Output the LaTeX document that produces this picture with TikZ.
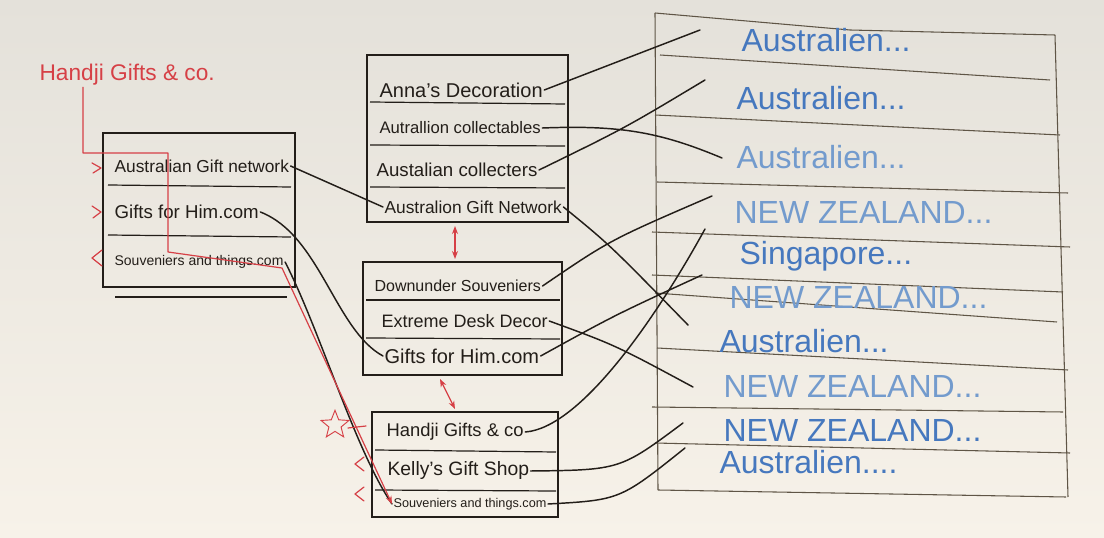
\documentclass[tikz,border=0pt]{standalone}
\usepackage{fontspec}
\setmainfont{Liberation Sans}
\usetikzlibrary{shapes.geometric,arrows.meta}
\definecolor{boardtop}{RGB}{228,225,218}
\definecolor{boardbot}{RGB}{247,242,233}
\definecolor{ink}{RGB}{35,30,25}
\definecolor{thinink}{RGB}{95,85,70}
\definecolor{hred}{RGB}{214,64,70}
\definecolor{hblue}{RGB}{70,120,190}
\definecolor{hbluel}{RGB}{115,155,205}
\newcommand\fsz[1]{\fontsize{#1}{#1}\selectfont}
\tikzset{
  frame/.style={draw=ink, line width=1.1pt},
  divider/.style={draw=ink, line width=0.9pt},
  rframe/.style={draw=thinink, line width=0.8pt},
  item/.style={anchor=west, inner sep=1pt, text=ink},
  place/.style={anchor=west, inner sep=1pt, text=hblue, font=\fsz{24pt}},
  conn/.style={draw=ink, line width=1.1pt, line cap=round},
  redink/.style={draw=hred, line width=0.9pt, line cap=round, line join=round},
  dbl/.style={redink, {Stealth[length=6pt]}-{Stealth[length=6pt]}}
}
\begin{document}
\begin{tikzpicture}[x=0.75pt,y=-0.75pt]
\shade[top color=boardtop, bottom color=boardbot] (0,0) rectangle (1104,538);
\useasboundingbox (0,0) rectangle (1104,538);

% ---------- red label ----------
\node[anchor=west, inner sep=1pt, text=hred, font=\fsz{17pt}] (hlab) at (38,75) {Handji Gifts \& co.};
\coordinate (rs) at (83,0);

% ---------- left box ----------
\draw[frame] (103,133) rectangle (295,287);
\draw[divider] (108,185) -- (291,187);
\draw[divider] (108,235) -- (291,237);
\draw[divider] (115,297) -- (287,297);
\node[item, font=\fsz{13pt}] (la1) at (113,166) {Australian Gift network};
\node[item, font=\fsz{14pt}] (la2) at (113,212) {Gifts for Him.com};
\node[item, font=\fsz{10.5pt}] (la3) at (113,262) {Souveniers and things.com};

% ---------- middle top box ----------
\draw[frame] (367,55) rectangle (568,222);
\draw[divider] (370,102) -- (565,104);
\draw[divider] (370,145) -- (565,146);
\draw[divider] (370,187) -- (565,188);
\node[item, font=\fsz{15pt}] (ma1) at (378,90) {Anna's Decoration};
\node[item, font=\fsz{12.5pt}] (ma2) at (378,128) {Autrallion collectables};
\node[item, font=\fsz{14pt}] (ma3) at (375,170) {Austalian collecters};
\node[item, font=\fsz{13pt}] (ma4) at (383,207) {Australion Gift Network};
\coordinate (ta1) at (455,226);

% ---------- middle box ----------
\draw[frame] (363,262) rectangle (562,375);
\draw[divider] (366,300) -- (560,300);
\draw[divider] (366,338) -- (560,339);
\node[item, font=\fsz{12pt}] (mb1) at (373,286) {Downunder Souveniers};
\node[item, font=\fsz{13.5pt}] (mb2) at (380,321) {Extreme Desk Decor};
\node[item, font=\fsz{15pt}] (mb3) at (383,356) {Gifts for Him.com};
\coordinate (tb1) at (455,259);
\coordinate (tb2) at (440,379);

% ---------- bottom box ----------
\draw[frame] (372,412) rectangle (558,517);
\draw[divider] (375,450) -- (556,452);
\draw[divider] (375,490) -- (556,491);
\node[item, font=\fsz{13.8pt}] (mc1) at (385,432) {Handji Gifts \& co};
\node[item, font=\fsz{14.5pt}] (mc2) at (386,471) {Kelly's Gift Shop};
\node[item, font=\fsz{9.5pt}] (mc3) at (392,504) {Souveniers and things.com};
\coordinate (tc1) at (455,409);

% ---------- right box ----------
\draw[rframe] (655,13) -- (658,490);
\draw[rframe] (655,13) -- (850,30) -- (1055,35);
\draw[rframe] (1055,35) -- (1068,497);
\draw[rframe] (658,490) -- (1066,497);
\draw[rframe] (660,55) -- (1050,80);
\draw[rframe] (655,115) -- (1060,135);
\draw[rframe] (657,182) -- (1068,193);
\draw[rframe] (652,232) -- (1070,247);
\draw[rframe] (652,275) -- (1063,292);
\draw[rframe] (655,293) -- (1057,322);
\draw[rframe] (657,348) -- (1068,370);
\draw[rframe] (652,407) -- (1063,412);
\draw[rframe] (655,443) -- (1070,453);

\node[place] (r1) at (740,40) {Australien...};
\node[place] (r2) at (735,98) {Australien...};
\node[place, text=hbluel] (r3) at (735,157) {Australien...};
\node[place, text=hbluel] (r4) at (733,212) {NEW ZEALAND...};
\node[place] (r5) at (738,256) {Singapore...};
\node[place, text=hbluel] (r6) at (728,297) {NEW ZEALAND...};
\node[place] (r7) at (718,341) {Australien...};
\node[place, text=hbluel] (r8) at (722,386) {NEW ZEALAND...};
\node[place] (r9) at (722,430) {NEW ZEALAND...};
\node[place] (r10) at (718,462) {Australien....};

\coordinate (e1) at (700,30);
\coordinate (e2) at (705,80);
\coordinate (e3) at (722,158);
\coordinate (e4) at (712,196);
\coordinate (e5) at (705,229);
\coordinate (e6) at (702,275);
\coordinate (e7) at (688,325);
\coordinate (e8) at (693,387);
\coordinate (e9) at (683,423);
\coordinate (e10) at (685,448);

% ---------- black connectors ----------
\draw[conn] (ma1.east) -- (e1);
\draw[conn] (ma2.east) .. controls (620,125) and (660,132) .. (e3);
\draw[conn] (ma3.east) .. controls (625,128) .. (e2);
\draw[conn] (ma4.east) .. controls (610,245) .. (e7);
\draw[conn] (la1.east) -- (ma4.west);
\draw[conn] (la2.east) .. controls (320,235) and (335,330) .. (mb3.west);
\draw[conn] (la3.east) .. controls (320,330) and (355,450) .. (mc3.west);
\draw[conn] (mb1.east) .. controls (610,240) .. (e4);
\draw[conn] (mb2.east) .. controls (615,345) .. (e8);
\draw[conn] (mb3.east) .. controls (615,315) .. (e6);
\draw[conn] (mc1.east) .. controls (580,428) and (655,320) .. (e5);
\draw[conn] (mc2.east) .. controls (620,470) .. (e9);
\draw[conn] (mc3.east) .. controls (620,500) .. (e10);

% ---------- red marks ----------
\draw[redink, -{Stealth[length=6pt]}] (hlab.south -| rs) -- (83,153) -- (168,153) -- (168,252) -- (282,268) -- (mc3.west);
\draw[redink] (92,163) -- (101,168) -- (93,173);
\draw[redink] (92,206) -- (101,212) -- (93,218);
\draw[redink] (102,250) -- (92,258) -- (102,266);
\draw[dbl] (ta1) -- (tb1);
\draw[dbl] (tb2) -- (tc1);
\node[star, star points=5, star point ratio=2.3, draw=hred, line width=0.7pt, minimum size=22pt, inner sep=0pt] (rstar) at (335,425) {};
\draw[redink] (348,428) -- (366,426);
\draw[redink] (364,457) -- (355,464) -- (364,471);
\draw[redink] (364,487) -- (355,494) -- (364,501);
\end{tikzpicture}
\end{document}
